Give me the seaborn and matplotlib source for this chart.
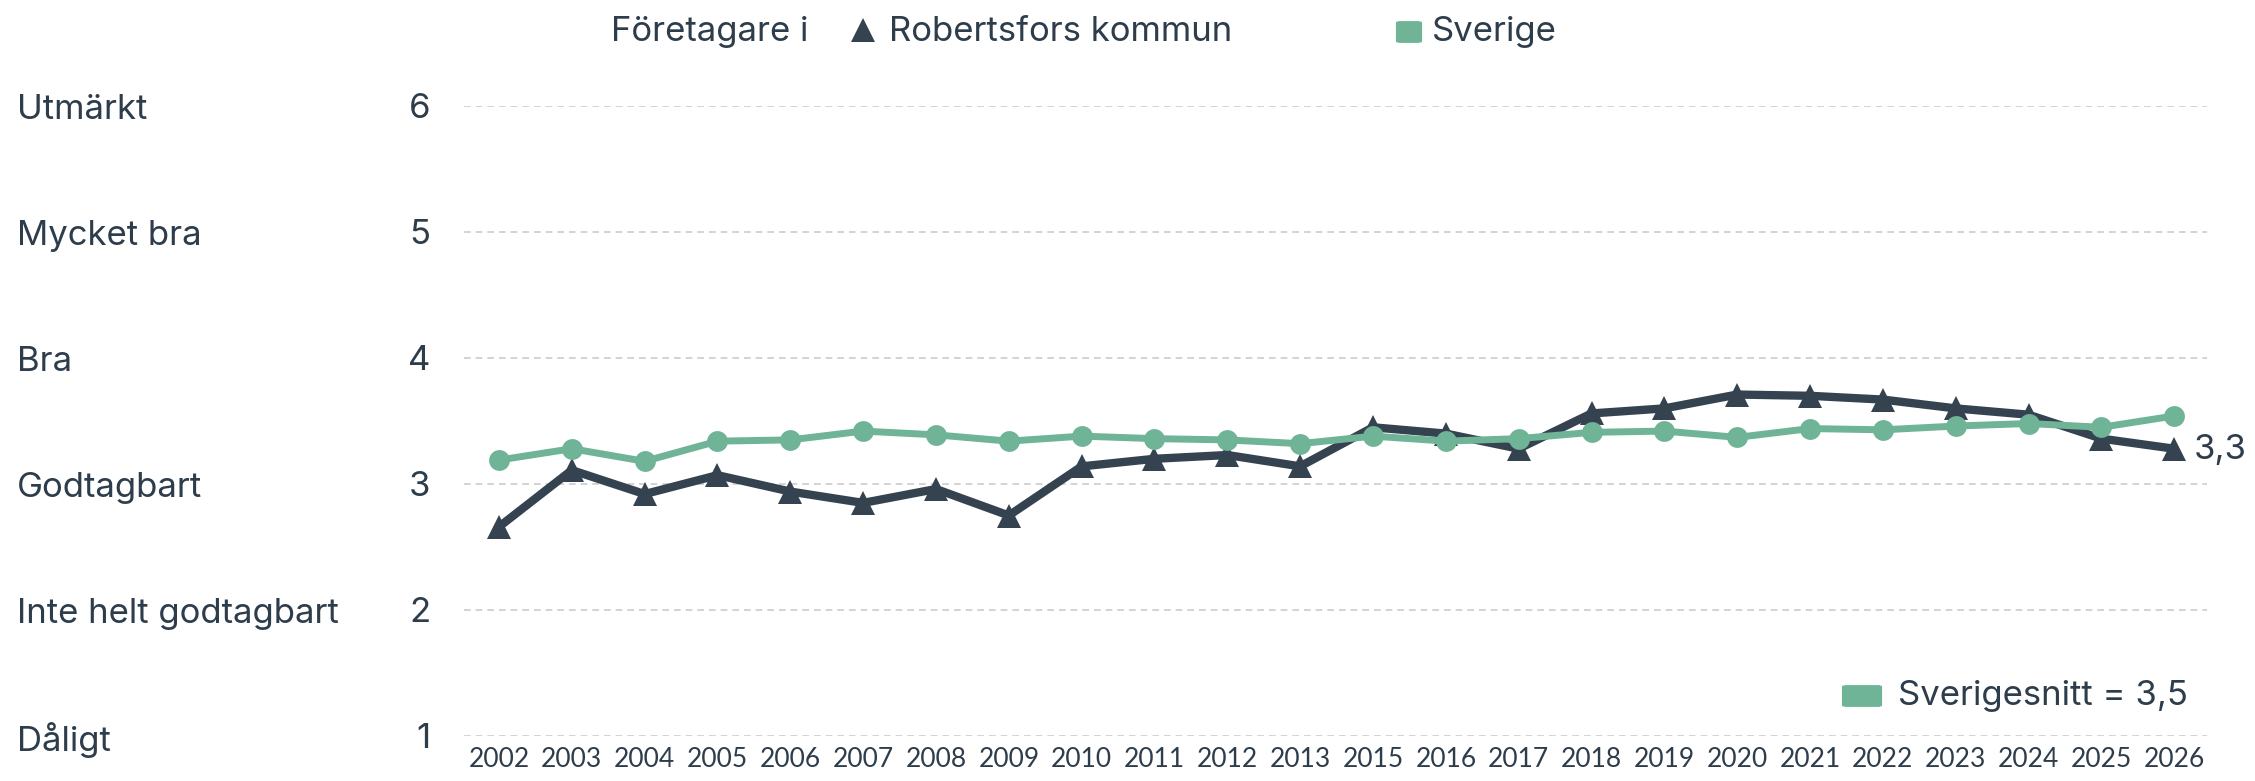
import pandas as pd
import numpy as np
import matplotlib
matplotlib.use("Agg")
import matplotlib.pyplot as plt
import seaborn as sns
from matplotlib.lines import Line2D
from matplotlib.patches import FancyBboxPatch
import matplotlib.transforms as mtransforms

# data
years = ['2002', '2003', '2004', '2005', '2006', '2007', '2008', '2009', '2010', '2011', '2012', '2013',
         '2015', '2016', '2017', '2018', '2019', '2020', '2021', '2022', '2023', '2024', '2025', '2026']
robertsfors = [2.66, 3.11, 2.92, 3.07, 2.94, 2.85, 2.96, 2.75, 3.14, 3.20, 3.23, 3.14,
               3.45, 3.40, 3.28, 3.56, 3.60, 3.71, 3.70, 3.67, 3.60, 3.55, 3.36, 3.28]
sverige = [3.19, 3.28, 3.18, 3.34, 3.35, 3.42, 3.39, 3.34, 3.38, 3.36, 3.35, 3.32,
           3.38, 3.34, 3.36, 3.41, 3.42, 3.37, 3.44, 3.43, 3.46, 3.48, 3.45, 3.54]
scale_labels = ['Dåligt', 'Inte helt godtagbart', 'Godtagbart', 'Bra', 'Mycket bra', 'Utmärkt']
scale_values = [1, 2, 3, 4, 5, 6]
last_label = '3,3'
snitt_label = 'Sverigesnitt = 3,5'

dark = '#34434f'
green = '#6fb497'
text_col = '#2e3d4b'
fs = 25

sns.set_style('white')
plt.rcParams['font.family'] = ['Inter', 'DejaVu Sans']

df = pd.DataFrame({'year': years, 'Robertsfors kommun': robertsfors, 'Sverige': sverige})

fig = plt.figure(figsize=(22.55, 7.81), dpi=100)
ax = fig.add_axes([464 / 2255, 1 - 736 / 781, (2207 - 464) / 2255, (736 - 106) / 781])

sns.lineplot(data=df, x='year', y='Robertsfors kommun', ax=ax, color=dark, lw=6,
             marker='^', markersize=17, markeredgewidth=0, sort=False, clip_on=False, zorder=3)
sns.lineplot(data=df, x='year', y='Sverige', ax=ax, color=green, lw=5,
             marker='o', markersize=15, markeredgewidth=0, sort=False, clip_on=False, zorder=4)

ax.set_xlim(-0.48, len(years) - 1 + 0.45)
ax.set_ylim(1, 6)
ax.set_yticks(scale_values)
ax.set_yticklabels([str(v) for v in scale_values])
ax.set_xlabel('')
ax.set_ylabel('')
ax.grid(axis='y', color='#cccccc', ls=(0, (4, 3)), lw=1.2)
ax.grid(axis='x', visible=False)
sns.despine(ax=ax, left=True, bottom=True)
ax.tick_params(axis='y', length=0, pad=24, labelsize=fs, labelcolor=text_col)
ax.tick_params(axis='x', length=0, pad=8, labelsize=19, labelcolor=text_col)
for t in ax.get_xticklabels():
    t.set_fontfamily(['Liberation Sans Narrow', 'Lato', 'DejaVu Sans'])

# scale names on the left
trans = mtransforms.blended_transform_factory(fig.transFigure, ax.transData)
for v, lab in zip(scale_values, scale_labels):
    fig.text(17 / 2255, v - 0.03, lab, transform=trans, fontsize=fs, color=text_col,
             ha='left', va='center')

# end label
ax.annotate(last_label, (len(years) - 1, robertsfors[-1]), xytext=(14, -1), textcoords='offset points',
            fontsize=fs, color=text_col, va='center', ha='left', annotation_clip=False)

# top legend
fig.text(611 / 2255, 1 - 32 / 781, 'Företagare i', fontsize=fs, color=text_col, va='center')
fig.add_artist(Line2D([863 / 2255], [1 - 30 / 781], marker='^', markersize=17, color=dark,
                      markeredgewidth=0, transform=fig.transFigure))
fig.text(889 / 2255, 1 - 32 / 781, 'Robertsfors kommun', fontsize=fs, color=text_col, va='center')
fig.add_artist(FancyBboxPatch((1400 / 2255, 1 - 41 / 781), 18 / 2255, 18 / 781,
                              boxstyle='round,pad=0.0015', color=green, transform=fig.transFigure))
fig.text(1432 / 2255, 1 - 32 / 781, 'Sverige', fontsize=fs, color=text_col, va='center')

# bottom right legend
fig.add_artist(FancyBboxPatch((1846 / 2255, 1 - 705 / 781), 32 / 2255, 18 / 781,
                              boxstyle='round,pad=0.0015', color=green, transform=fig.transFigure))
fig.text(1898 / 2255, 1 - 696 / 781, snitt_label, fontsize=fs, color=text_col, va='center')

fig.savefig('out.png', dpi=100)
